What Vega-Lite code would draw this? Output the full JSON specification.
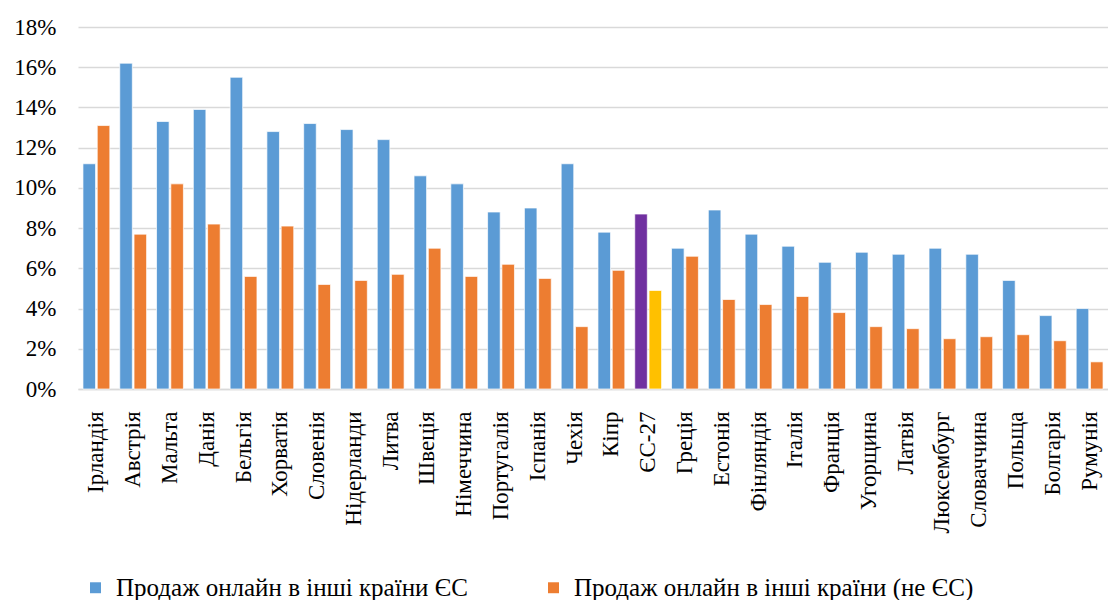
{
  "$schema": "https://vega.github.io/schema/vega-lite/v6.json",
  "width": 1030,
  "height": 362,
  "autosize": {"type": "none"},
  "padding": {"left": 78, "top": 27, "right": 0, "bottom": 211},
  "background": "white",
  "config": {
    "font": "'Liberation Serif', 'Times New Roman', 'DejaVu Serif', serif",
    "view": {"stroke": null}
  },
  "data": {
    "values": [
      {"country": "Ірландія", "series": "Продаж онлайн в інші країни ЄС", "value": 11.2},
      {"country": "Ірландія", "series": "Продаж онлайн в інші країни (не ЄС)", "value": 13.1},
      {"country": "Австрія", "series": "Продаж онлайн в інші країни ЄС", "value": 16.2},
      {"country": "Австрія", "series": "Продаж онлайн в інші країни (не ЄС)", "value": 7.7},
      {"country": "Мальта", "series": "Продаж онлайн в інші країни ЄС", "value": 13.3},
      {"country": "Мальта", "series": "Продаж онлайн в інші країни (не ЄС)", "value": 10.2},
      {"country": "Данія", "series": "Продаж онлайн в інші країни ЄС", "value": 13.9},
      {"country": "Данія", "series": "Продаж онлайн в інші країни (не ЄС)", "value": 8.2},
      {"country": "Бельгія", "series": "Продаж онлайн в інші країни ЄС", "value": 15.5},
      {"country": "Бельгія", "series": "Продаж онлайн в інші країни (не ЄС)", "value": 5.6},
      {"country": "Хорватія", "series": "Продаж онлайн в інші країни ЄС", "value": 12.8},
      {"country": "Хорватія", "series": "Продаж онлайн в інші країни (не ЄС)", "value": 8.1},
      {"country": "Словенія", "series": "Продаж онлайн в інші країни ЄС", "value": 13.2},
      {"country": "Словенія", "series": "Продаж онлайн в інші країни (не ЄС)", "value": 5.2},
      {"country": "Нідерланди", "series": "Продаж онлайн в інші країни ЄС", "value": 12.9},
      {"country": "Нідерланди", "series": "Продаж онлайн в інші країни (не ЄС)", "value": 5.4},
      {"country": "Литва", "series": "Продаж онлайн в інші країни ЄС", "value": 12.4},
      {"country": "Литва", "series": "Продаж онлайн в інші країни (не ЄС)", "value": 5.7},
      {"country": "Швеція", "series": "Продаж онлайн в інші країни ЄС", "value": 10.6},
      {"country": "Швеція", "series": "Продаж онлайн в інші країни (не ЄС)", "value": 7.0},
      {"country": "Німеччина", "series": "Продаж онлайн в інші країни ЄС", "value": 10.2},
      {"country": "Німеччина", "series": "Продаж онлайн в інші країни (не ЄС)", "value": 5.6},
      {"country": "Португалія", "series": "Продаж онлайн в інші країни ЄС", "value": 8.8},
      {"country": "Португалія", "series": "Продаж онлайн в інші країни (не ЄС)", "value": 6.2},
      {"country": "Іспанія", "series": "Продаж онлайн в інші країни ЄС", "value": 9.0},
      {"country": "Іспанія", "series": "Продаж онлайн в інші країни (не ЄС)", "value": 5.5},
      {"country": "Чехія", "series": "Продаж онлайн в інші країни ЄС", "value": 11.2},
      {"country": "Чехія", "series": "Продаж онлайн в інші країни (не ЄС)", "value": 3.1},
      {"country": "Кіпр", "series": "Продаж онлайн в інші країни ЄС", "value": 7.8},
      {"country": "Кіпр", "series": "Продаж онлайн в інші країни (не ЄС)", "value": 5.9},
      {"country": "ЄС-27", "series": "Продаж онлайн в інші країни ЄС", "value": 8.7},
      {"country": "ЄС-27", "series": "Продаж онлайн в інші країни (не ЄС)", "value": 4.9},
      {"country": "Греція", "series": "Продаж онлайн в інші країни ЄС", "value": 7.0},
      {"country": "Греція", "series": "Продаж онлайн в інші країни (не ЄС)", "value": 6.6},
      {"country": "Естонія", "series": "Продаж онлайн в інші країни ЄС", "value": 8.9},
      {"country": "Естонія", "series": "Продаж онлайн в інші країни (не ЄС)", "value": 4.45},
      {"country": "Фінляндія", "series": "Продаж онлайн в інші країни ЄС", "value": 7.7},
      {"country": "Фінляндія", "series": "Продаж онлайн в інші країни (не ЄС)", "value": 4.2},
      {"country": "Італія", "series": "Продаж онлайн в інші країни ЄС", "value": 7.1},
      {"country": "Італія", "series": "Продаж онлайн в інші країни (не ЄС)", "value": 4.6},
      {"country": "Франція", "series": "Продаж онлайн в інші країни ЄС", "value": 6.3},
      {"country": "Франція", "series": "Продаж онлайн в інші країни (не ЄС)", "value": 3.8},
      {"country": "Угорщина", "series": "Продаж онлайн в інші країни ЄС", "value": 6.8},
      {"country": "Угорщина", "series": "Продаж онлайн в інші країни (не ЄС)", "value": 3.1},
      {"country": "Латвія", "series": "Продаж онлайн в інші країни ЄС", "value": 6.7},
      {"country": "Латвія", "series": "Продаж онлайн в інші країни (не ЄС)", "value": 3.0},
      {"country": "Люксембург", "series": "Продаж онлайн в інші країни ЄС", "value": 7.0},
      {"country": "Люксембург", "series": "Продаж онлайн в інші країни (не ЄС)", "value": 2.5},
      {"country": "Словаччина", "series": "Продаж онлайн в інші країни ЄС", "value": 6.7},
      {"country": "Словаччина", "series": "Продаж онлайн в інші країни (не ЄС)", "value": 2.6},
      {"country": "Польща", "series": "Продаж онлайн в інші країни ЄС", "value": 5.4},
      {"country": "Польща", "series": "Продаж онлайн в інші країни (не ЄС)", "value": 2.7},
      {"country": "Болгарія", "series": "Продаж онлайн в інші країни ЄС", "value": 3.65},
      {"country": "Болгарія", "series": "Продаж онлайн в інші країни (не ЄС)", "value": 2.4},
      {"country": "Румунія", "series": "Продаж онлайн в інші країни ЄС", "value": 4.0},
      {"country": "Румунія", "series": "Продаж онлайн в інші країни (не ЄС)", "value": 1.35}
    ]
  },
  "mark": {"type": "bar", "stroke": "white", "strokeWidth": 0.7},
  "encoding": {
    "x": {
      "field": "country",
      "type": "nominal",
      "sort": null,
      "scale": {"paddingInner": 0.27, "paddingOuter": 0.135},
      "axis": {
        "title": null,
        "labelAngle": -90,
        "labelAlign": "right",
        "labelBaseline": "middle",
        "labelFontSize": 23,
        "labelColor": "black",
        "labelPadding": 22,
        "ticks": false,
        "domainColor": "#d9d9d9",
        "domainWidth": 1.5,
        "labelOverlap": false
      }
    },
    "xOffset": {
      "field": "series",
      "sort": ["Продаж онлайн в інші країни ЄС", "Продаж онлайн в інші країни (не ЄС)"],
      "scale": {"paddingInner": 0.12}
    },
    "y": {
      "field": "value",
      "type": "quantitative",
      "scale": {"domain": [0, 18], "nice": false},
      "axis": {
        "title": null,
        "values": [0, 2, 4, 6, 8, 10, 12, 14, 16, 18],
        "labelExpr": "datum.value + '%'",
        "labelFontSize": 23,
        "labelColor": "black",
        "labelPadding": 22,
        "ticks": false,
        "domain": false,
        "gridColor": "#d9d9d9",
        "gridWidth": 1.5
      }
    },
    "color": {
      "condition": [
        {"test": "datum.country === 'ЄС-27' && datum.series === 'Продаж онлайн в інші країни ЄС'", "value": "#7030A0"},
        {"test": "datum.country === 'ЄС-27' && datum.series === 'Продаж онлайн в інші країни (не ЄС)'", "value": "#FFC000"}
      ],
      "field": "series",
      "type": "nominal",
      "sort": ["Продаж онлайн в інші країни ЄС", "Продаж онлайн в інші країни (не ЄС)"],
      "scale": {
        "domain": ["Продаж онлайн в інші країни ЄС", "Продаж онлайн в інші країни (не ЄС)"],
        "range": ["#5B9BD5", "#ED7D31"]
      },
      "legend": {
        "title": null,
        "orient": "none",
        "direction": "horizontal",
        "legendX": 5,
        "legendY": 548,
        "symbolType": "square",
        "symbolSize": 120,
        "symbolStrokeWidth": 0,
        "labelFontSize": 25,
        "labelColor": "black",
        "labelLimit": 600,
        "columnPadding": 73,
        "labelOffset": 8
      }
    }
  }
}
